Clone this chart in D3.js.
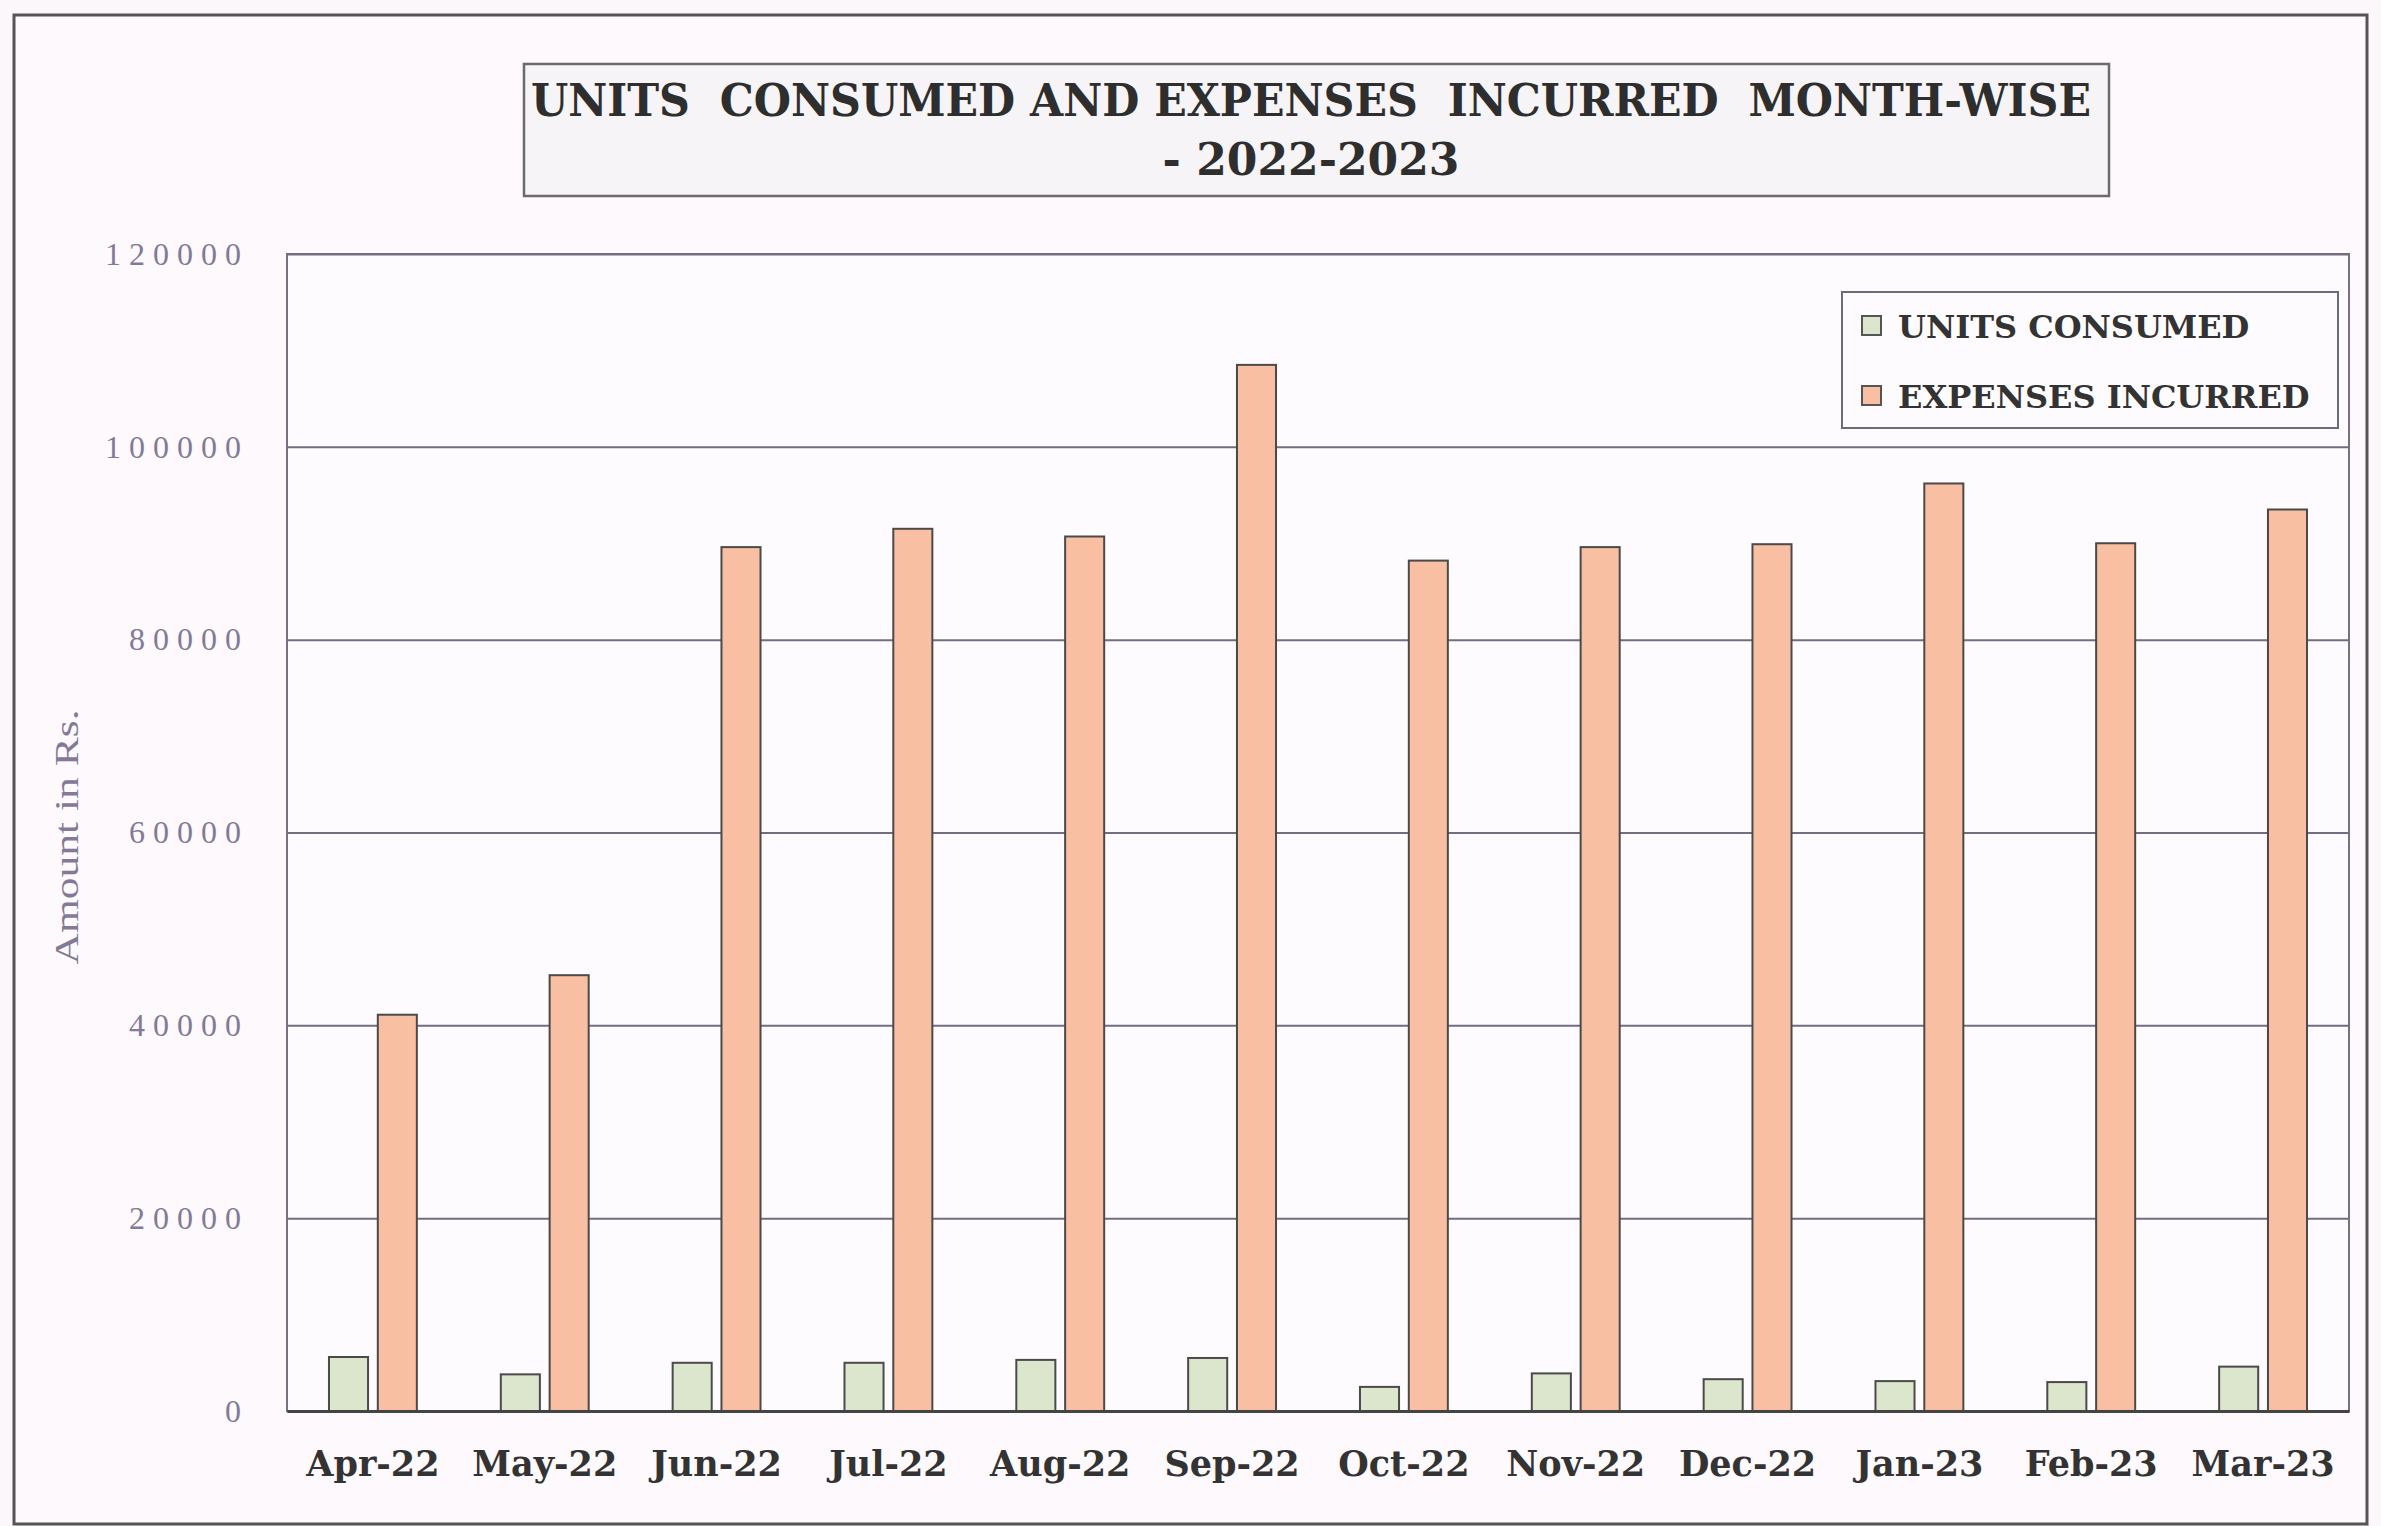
<!DOCTYPE html>
<html>
<head>
<meta charset="utf-8">
<script src="https://cdn.jsdelivr.net/npm/d3@7"></script>
<style>
  body { margin: 0; background: #fcf7fb; }
  svg { display: block; }
</style>
</head>
<body>
<svg width="2381" height="1526"></svg>
<script>
// month-wise units consumed and expenses incurred, 2022-2023
const months = ["Apr-22", "May-22", "Jun-22", "Jul-22", "Aug-22", "Sep-22",
                "Oct-22", "Nov-22", "Dec-22", "Jan-23", "Feb-23", "Mar-23"];
const units = [5600, 3800, 5000, 5000, 5300, 5500, 2500, 3900, 3300, 3100, 3000, 4600];
const expenses = [41100, 45200, 89600, 91500, 90700, 108500, 88200, 89600, 89900, 96200, 90000, 93500];
const seriesNames = ["UNITS CONSUMED", "EXPENSES INCURRED"];
const yTicks = [0, 20000, 40000, 60000, 80000, 100000, 120000];

var svg = d3.select("svg"),
    width = +svg.attr("width"),
    height = +svg.attr("height");

var plot = {left: 287, right: 2349, top: 254, bottom: 1411};
var fills = ["#dbe6cd", "#f8bfa2"];
var boldFont = "'DejaVu Serif', serif";

// outer frame
svg.append("rect")
    .attr("x", 14).attr("y", 15)
    .attr("width", width - 28).attr("height", height - 17)
    .attr("fill", "#fdf9fd")
    .attr("stroke", "#555")
    .attr("stroke-width", 3)

// title box
svg.append("rect")
    .attr("x", 524).attr("y", 64)
    .attr("width", 1585).attr("height", 132)
    .attr("fill", "#f7f4f7")
    .attr("stroke", "#6b6b6b")
    .attr("stroke-width", 2.5)

var title = svg.append("text")
    .attr("text-anchor", "middle")
    .style("font-family", boldFont)
    .style("font-weight", "bold")
    .style("font-size", "44px")
    .attr("fill", "#2e2e2e")
title.append("tspan")
    .attr("x", 1311).attr("y", 116)
    .attr("textLength", 1560)
    .attr("lengthAdjust", "spacingAndGlyphs")
    .style("white-space", "pre")
    .text("UNITS  CONSUMED AND EXPENSES  INCURRED  MONTH-WISE")
title.append("tspan")
    .attr("x", 1311).attr("y", 175)
    .text("- 2022-2023")

// scales
var x0 = d3.scaleBand()
    .domain(months)
    .range([plot.left, plot.right])
    .padding(0)

var x1 = d3.scaleBand()
    .domain(seriesNames)
    .range([0, x0.bandwidth()])
    .paddingInner(0.2)
    .paddingOuter(0.86)

var y = d3.scaleLinear()
    .domain([0, 120000])
    .range([plot.bottom, plot.top])

// plot area
svg.append("rect")
    .attr("x", plot.left).attr("y", plot.top)
    .attr("width", plot.right - plot.left).attr("height", plot.bottom - plot.top)
    .attr("fill", "#fefbfe")
    .attr("stroke", "#77707f")
    .attr("stroke-width", 2)

// gridlines
svg.append("g")
    .attr("transform", "translate(" + plot.left + ",0)")
    .call(d3.axisLeft(y).tickValues(yTicks).tickSize(-(plot.right - plot.left)).tickFormat(""))
    .call(g => g.select(".domain").remove())
    .call(g => g.selectAll("line").attr("stroke", "#746c82").attr("stroke-width", 2))

// y tick labels
svg.append("g")
    .attr("transform", "translate(" + plot.left + ",0)")
    .call(d3.axisLeft(y).tickValues(yTicks).tickSize(0).tickPadding(38).tickFormat(d3.format("d")))
    .call(g => g.select(".domain").remove())
    .call(g => g.selectAll("text")
        .style("font-family", "'Liberation Serif', serif")
        .style("font-size", "32px")
        .style("letter-spacing", "8px")
        .attr("fill", "#837a98"))

// y axis title
svg.append("text")
    .attr("transform", "translate(78,837) rotate(-90)")
    .attr("text-anchor", "middle")
    .attr("textLength", 255)
    .attr("lengthAdjust", "spacingAndGlyphs")
    .style("font-family", "'Liberation Serif', serif")
    .style("font-size", "33px")
    .attr("fill", "#837a98")
    .text("Amount in Rs.")

// bars
var groups = svg.append("g")
    .selectAll("g")
    .data(months)
    .enter().append("g")
        .attr("transform", d => "translate(" + x0(d) + ",0)")

groups.selectAll("rect")
    .data((d, i) => [units[i], expenses[i]])
    .enter().append("rect")
        .attr("x", (d, i) => x1(seriesNames[i]))
        .attr("y", d => y(d))
        .attr("width", x1.bandwidth())
        .attr("height", d => y(0) - y(d))
        .attr("fill", (d, i) => fills[i])
        .attr("stroke", "#4a4a4a")
        .attr("stroke-width", 2)

// x axis
svg.append("g")
    .attr("transform", "translate(0," + plot.bottom + ")")
    .call(d3.axisBottom(x0).tickSize(0).tickPadding(40))
    .call(g => g.select(".domain").attr("stroke", "#444").attr("stroke-width", 3))
    .call(g => g.selectAll("text")
        .style("font-family", boldFont)
        .style("font-weight", "bold")
        .style("font-size", "35px")
        .attr("fill", "#333"))

// legend
var legend = svg.append("g")
legend.append("rect")
    .attr("x", 1842).attr("y", 292)
    .attr("width", 496).attr("height", 136)
    .attr("fill", "#fefbfe")
    .attr("stroke", "#6b6b7b")
    .attr("stroke-width", 2)

var items = legend.selectAll("g.item")
    .data(seriesNames)
    .enter().append("g")
        .attr("class", "item")
        .attr("transform", (d, i) => "translate(1862," + (326 + i * 70) + ")")

items.append("rect")
    .attr("x", 0).attr("y", -10)
    .attr("width", 19).attr("height", 19)
    .attr("fill", (d, i) => fills[i])
    .attr("stroke", "#555")
    .attr("stroke-width", 2)

items.append("text")
    .attr("x", 36).attr("y", 12)
    .style("font-family", boldFont)
    .style("font-weight", "bold")
    .style("font-size", "32px")
    .attr("fill", "#333")
    .text(d => d)
</script>
</body>
</html>
